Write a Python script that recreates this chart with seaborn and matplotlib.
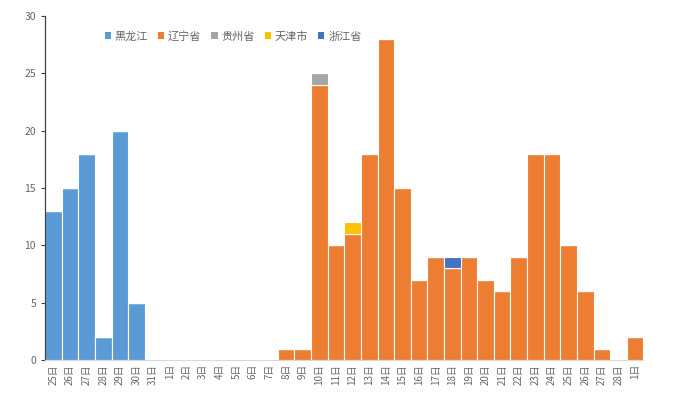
import numpy as np
import pandas as pd
import matplotlib
matplotlib.use("Agg")
import matplotlib.pyplot as plt
import seaborn as sns
from matplotlib.patches import Patch

days = ["25日", "26日", "27日", "28日", "29日", "30日", "31日"] + [f"{d}日" for d in range(1, 29)] + ["1日"]

heilongjiang = [13, 15, 18, 2, 20, 5, 0] + [0] * 29
liaoning = [0] * 7 + [0] * 7 + [1, 1, 24, 10, 11, 18, 28, 15, 7, 9, 8, 9, 7, 6, 9, 18, 18, 10, 6, 1, 0, 2]
guizhou = [0] * 16 + [1] + [0] * 19
tianjin = [0] * 18 + [1] + [0] * 17
zhejiang = [0] * 24 + [1] + [0] * 11

series_names = ["黑龙江", "辽宁省", "贵州省", "天津市", "浙江省"]
series_vals = [heilongjiang, liaoning, guizhou, tianjin, zhejiang]
colors = ["#5B9BD5", "#ED7D31", "#A5A5A5", "#FFC000", "#4472C4"]

sns.set_style("white")
plt.rcParams["font.family"] = ["Noto Sans CJK SC", "DejaVu Sans"]

fig = plt.figure(figsize=(6.77, 3.97), dpi=100)
ax = fig.add_axes([0.0665, 0.093, 0.884, 0.867])

idx = np.arange(len(days))
bottom = np.zeros(len(days))
for name, vals, c in zip(series_names, series_vals, colors):
    v = np.array(vals, dtype=float)
    sns.barplot(x=idx, y=v, bottom=bottom, color=c, width=1.0, ax=ax,
                edgecolor="white", linewidth=0.8, saturation=1, native_scale=True)
    bottom = bottom + v

ax.set_xlim(-0.5, len(days) - 0.5)
ax.set_ylim(0, 30)
ax.set_yticks([0, 5, 10, 15, 20, 25, 30])
ax.set_xticks(idx)
ax.set_xticklabels(days, rotation=90, fontsize=7, color="#666666")
ax.tick_params(axis="y", labelsize=7.5, labelcolor="#666666", length=3, width=0.8, color="#404040", left=True)
ax.tick_params(axis="x", length=0, pad=3)
ax.set_xlabel("")
ax.set_ylabel("")

for s in ["top", "right"]:
    ax.spines[s].set_visible(False)
ax.spines["left"].set_color("#404040")
ax.spines["left"].set_linewidth(0.9)
ax.spines["bottom"].set_color("#D9D9D9")
ax.spines["bottom"].set_linewidth(0.8)

handles = [Patch(facecolor=c, edgecolor="none") for c in colors]
leg = ax.legend(handles, series_names, loc="upper left", bbox_to_anchor=(0.083, 0.985), ncol=5,
                frameon=False, fontsize=8, handlelength=0.55, handleheight=0.55,
                handletextpad=0.35, columnspacing=0.9, labelcolor="#666666")

fig.savefig("out.png", dpi=100, facecolor="white")
